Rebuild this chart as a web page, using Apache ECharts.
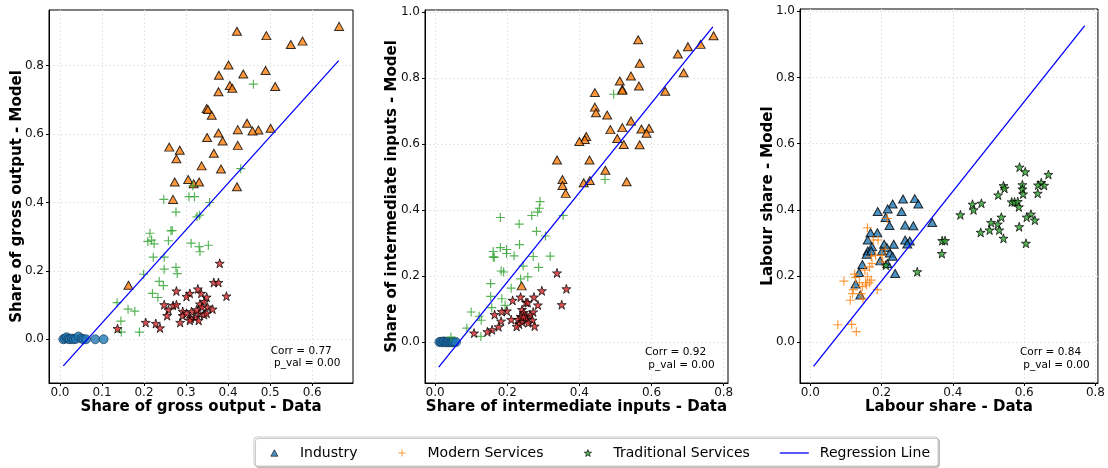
<!DOCTYPE html>
<html>
<head>
<meta charset="utf-8">
<script src="https://cdn.jsdelivr.net/npm/echarts@6/dist/echarts.min.js"></script>
<style>html,body{margin:0;padding:0;background:#fff;}#c{width:1108px;height:468px;}</style>
</head>
<body>
<div id="c"></div>
<script>
// ---------------- DATA ----------------
// Panel 1: Share of gross output (Data, Model)
const goAgriculture = [[0.008,0.000],[0.012,0.002],[0.016,0.006],[0.020,0.001],[0.024,0.000],[0.029,0.002],[0.033,0.000],[0.038,0.001],[0.044,0.008],[0.051,0.002],[0.056,0.000],[0.062,0.000],[0.084,0.000],[0.104,0.000]];
const goIndustry = [[0.664,0.915],[0.421,0.901],[0.491,0.888],[0.549,0.862],[0.577,0.872],[0.401,0.802],[0.436,0.776],[0.489,0.786],[0.378,0.772],[0.404,0.742],[0.410,0.734],[0.377,0.724],[0.512,0.739],[0.349,0.675],[0.352,0.672],[0.361,0.655],[0.445,0.632],[0.423,0.613],[0.472,0.612],[0.458,0.609],[0.501,0.617],[0.350,0.590],[0.377,0.603],[0.387,0.580],[0.423,0.567],[0.260,0.562],[0.285,0.553],[0.277,0.528],[0.366,0.544],[0.337,0.507],[0.383,0.498],[0.305,0.467],[0.273,0.460],[0.318,0.455],[0.331,0.460],[0.421,0.446],[0.269,0.409],[0.163,0.158]];
const goModern = [[0.460,0.746],[0.430,0.499],[0.316,0.449],[0.247,0.409],[0.307,0.417],[0.320,0.417],[0.356,0.400],[0.276,0.372],[0.332,0.363],[0.326,0.358],[0.214,0.310],[0.267,0.318],[0.264,0.317],[0.209,0.286],[0.218,0.290],[0.224,0.279],[0.258,0.288],[0.312,0.281],[0.331,0.271],[0.353,0.275],[0.333,0.256],[0.222,0.240],[0.248,0.240],[0.248,0.205],[0.276,0.210],[0.279,0.192],[0.199,0.190],[0.236,0.169],[0.246,0.157],[0.220,0.134],[0.233,0.122],[0.136,0.107],[0.162,0.088],[0.178,0.082],[0.145,0.053],[0.146,0.021],[0.189,0.021]];
const goTraditional = [[0.380,0.222],[0.366,0.166],[0.377,0.166],[0.396,0.126],[0.277,0.141],[0.328,0.147],[0.336,0.134],[0.349,0.123],[0.309,0.134],[0.301,0.125],[0.248,0.101],[0.269,0.099],[0.277,0.101],[0.258,0.086],[0.255,0.069],[0.292,0.081],[0.292,0.069],[0.313,0.081],[0.333,0.103],[0.343,0.110],[0.338,0.094],[0.351,0.094],[0.363,0.088],[0.331,0.076],[0.322,0.064],[0.343,0.072],[0.349,0.076],[0.311,0.061],[0.330,0.055],[0.309,0.055],[0.286,0.049],[0.204,0.049],[0.228,0.046],[0.238,0.033],[0.137,0.031],[0.301,0.076],[0.325,0.086]];
const goRegression = [[0.008,-0.078],[0.663,0.815]];

// Panel 2: Share of intermediate inputs (Data, Model)
const iiAgriculture = [[0.012,0.001],[0.016,0.002],[0.020,0.000],[0.024,0.003],[0.028,0.001],[0.032,0.000],[0.036,0.002],[0.040,0.000],[0.044,0.001],[0.048,0.000],[0.052,0.002],[0.058,0.001]];
const iiIndustry = [[0.772,0.928],[0.736,0.902],[0.563,0.916],[0.701,0.895],[0.673,0.873],[0.567,0.845],[0.689,0.816],[0.543,0.806],[0.512,0.791],[0.519,0.766],[0.519,0.763],[0.565,0.776],[0.638,0.760],[0.443,0.756],[0.443,0.712],[0.446,0.695],[0.477,0.688],[0.543,0.670],[0.486,0.644],[0.519,0.650],[0.572,0.646],[0.593,0.648],[0.586,0.633],[0.505,0.617],[0.419,0.623],[0.415,0.614],[0.400,0.608],[0.523,0.599],[0.567,0.598],[0.338,0.552],[0.428,0.552],[0.472,0.521],[0.353,0.493],[0.353,0.475],[0.362,0.451],[0.412,0.483],[0.429,0.490],[0.531,0.486],[0.240,0.171]];
const iiModern = [[0.495,0.751],[0.471,0.493],[0.355,0.384],[0.291,0.426],[0.289,0.406],[0.284,0.394],[0.268,0.384],[0.181,0.378],[0.233,0.358],[0.281,0.336],[0.306,0.322],[0.234,0.296],[0.161,0.275],[0.198,0.281],[0.181,0.287],[0.161,0.259],[0.164,0.257],[0.198,0.269],[0.219,0.262],[0.272,0.260],[0.319,0.261],[0.244,0.231],[0.287,0.227],[0.183,0.216],[0.190,0.213],[0.257,0.198],[0.237,0.192],[0.154,0.178],[0.211,0.164],[0.154,0.139],[0.185,0.132],[0.194,0.112],[0.157,0.105],[0.100,0.092],[0.122,0.079],[0.128,0.067],[0.088,0.043],[0.127,0.018],[0.044,0.016]];
const iiTraditional = [[0.338,0.210],[0.364,0.162],[0.351,0.114],[0.296,0.156],[0.274,0.137],[0.237,0.137],[0.215,0.127],[0.252,0.121],[0.257,0.120],[0.285,0.113],[0.199,0.095],[0.185,0.093],[0.165,0.084],[0.241,0.099],[0.246,0.090],[0.272,0.092],[0.263,0.083],[0.251,0.079],[0.237,0.078],[0.230,0.069],[0.211,0.069],[0.183,0.064],[0.254,0.069],[0.270,0.067],[0.241,0.062],[0.233,0.055],[0.226,0.048],[0.276,0.049],[0.176,0.047],[0.158,0.038],[0.145,0.032],[0.108,0.028],[0.245,0.077],[0.258,0.059]];
const iiRegression = [[0.010,-0.075],[0.770,0.955]];

// Panel 3: Labour share (Data, Model)
const lsIndustry = [[0.342,0.362],[0.260,0.433],[0.293,0.434],[0.303,0.418],[0.231,0.418],[0.217,0.403],[0.189,0.395],[0.256,0.395],[0.211,0.377],[0.222,0.353],[0.266,0.354],[0.289,0.352],[0.169,0.331],[0.188,0.331],[0.161,0.309],[0.266,0.309],[0.279,0.306],[0.272,0.297],[0.207,0.296],[0.234,0.296],[0.215,0.286],[0.173,0.289],[0.161,0.276],[0.201,0.276],[0.158,0.266],[0.223,0.270],[0.231,0.260],[0.196,0.246],[0.216,0.238],[0.146,0.235],[0.137,0.211],[0.238,0.208],[0.127,0.176],[0.140,0.143],[0.171,0.276]];
const lsModern = [[0.160,0.346],[0.216,0.374],[0.190,0.309],[0.177,0.309],[0.183,0.263],[0.171,0.260],[0.173,0.238],[0.203,0.243],[0.210,0.281],[0.153,0.218],[0.166,0.228],[0.160,0.198],[0.171,0.188],[0.155,0.180],[0.166,0.180],[0.158,0.173],[0.146,0.168],[0.124,0.206],[0.127,0.196],[0.094,0.185],[0.138,0.180],[0.121,0.159],[0.188,0.159],[0.118,0.147],[0.112,0.127],[0.142,0.147],[0.077,0.053],[0.116,0.054],[0.129,0.032],[0.148,0.131],[0.201,0.263]];
const lsTraditional = [[0.668,0.507],[0.587,0.529],[0.603,0.515],[0.648,0.482],[0.639,0.475],[0.656,0.474],[0.595,0.476],[0.595,0.463],[0.597,0.448],[0.638,0.450],[0.542,0.473],[0.545,0.465],[0.527,0.445],[0.565,0.424],[0.573,0.424],[0.582,0.425],[0.585,0.409],[0.455,0.417],[0.480,0.420],[0.458,0.400],[0.421,0.385],[0.619,0.387],[0.607,0.378],[0.630,0.369],[0.536,0.378],[0.507,0.362],[0.526,0.357],[0.530,0.339],[0.503,0.339],[0.586,0.349],[0.478,0.332],[0.542,0.314],[0.605,0.299],[0.370,0.307],[0.378,0.307],[0.369,0.268],[0.300,0.213],[0.212,0.233]];
const lsRegression = [[0.009,-0.073],[0.770,0.957]];

// Axis ranges and tick labels
const p1XTicks = [0.0,0.1,0.2,0.3,0.4,0.5,0.6];
const p1YTicks = [0.0,0.2,0.4,0.6,0.8];
const p2XTicks = [0.0,0.2,0.4,0.6,0.8];
const p2YTicks = [0.0,0.2,0.4,0.6,0.8,1.0];
const p3XTicks = [0.0,0.2,0.4,0.6,0.8];
const p3YTicks = [0.0,0.2,0.4,0.6,0.8,1.0];
const corrTexts = ['Corr = 0.77\n p_val = 0.00','Corr = 0.92\n p_val = 0.00','Corr = 0.84\n p_val = 0.00'];
const xTitles = ['Share of gross output - Data','Share of intermediate inputs - Data','Labour share - Data'];
const yTitles = ['Share of gross output - Model','Share of intermediate inputs - Model','Labour share - Model'];
const legendNames = ['Industry','Modern Services','Traditional Services','Regression Line'];

// ---------------- STYLE ----------------
const FONT = 'DejaVu Sans';
const BLUE='#1f77b4', ORANGE='#ff7f0e', GREEN='#2ca02c', RED='#d62728';
const STAR = 'path://M50,0 L61.2,34.5 L97.6,34.5 L68.2,55.9 L79.4,90.5 L50,69.1 L20.6,90.5 L31.8,55.9 L2.4,34.5 L38.8,34.5 Z';
const PLUS = 'path://M4.35,0 H5.65 V4.35 H10 V5.65 H5.65 V10 H4.35 V5.65 H0 V4.35 H4.35 Z';
const TRI = 'path://M5,0 L10,8.66 L0,8.66 Z';
// legend handles: 29px wide boxes with the marker centred (zero-length end segments set the extent)
const EDGES = 'M0,3.5 L0.001,3.5 M29,3.5 L28.999,3.5 ';
const TRI_L = 'path://' + EDGES + 'M11,7 L14.5,0.6 L18,7 Z';
const PLUS_L = 'path://' + EDGES + 'M14,0 H15 V3 H18 V4 H15 V7 H14 V4 H11 V3 H14 Z';
const STAR_L = 'path://' + EDGES + 'M14.5,0.2 L15.44,2.91 L18.3,2.96 L16.02,4.69 L16.85,7.44 L14.5,5.8 L12.15,7.44 L12.98,4.69 L10.7,2.96 L13.56,2.91 Z';
const LINE_L = 'path://M0,3 H29 V4.3 H0 Z';

const grids = [
  {left:49, top:10, width:304, height:373},
  {left:425, top:10, width:303, height:373},
  {left:800, top:9, width:302, height:374}
].map(g => Object.assign(g, {show:true, borderColor:'#000', borderWidth:1, backgroundColor:'transparent', containLabel:false}));

const ranges = [
  {x:[-0.026,0.697], y:[-0.128,0.963], xs:7, ys:5},
  {x:[-0.028,0.812], y:[-0.123,1.006], xs:4, ys:5},
  {x:[-0.029,0.807], y:[-0.123,1.007], xs:4, ys:5}
];
const xTickSets=[p1XTicks,p2XTicks,p3XTicks], yTickSets=[p1YTicks,p2YTicks,p3YTicks];
const yNameGaps=[24,25,24.5];

const fmt = v => Number(v).toFixed(1);
const splitLine = {show:true, lineStyle:{color:'#e6e6e6', width:1, type:[2,2]}};

const xAxes = ranges.map((r,i)=>({
  type:'value', gridIndex:i, min:r.x[0], max:r.x[1], splitNumber:r.xs,
  name:xTitles[i], nameLocation:'middle', nameGap:17, nameMoveOverlap:false,
  nameTextStyle:{fontFamily:FONT, fontWeight:'bold', fontSize:15, color:'#000'},
  axisLine:{show:true, onZero:false, lineStyle:{color:'#000', width:1}},
  axisTick:{show:true, length:3, lineStyle:{color:'#000'}, customValues:xTickSets[i]},
  axisLabel:{fontFamily:FONT, fontSize:12, color:'#111', margin:4, formatter:fmt, customValues:xTickSets[i]},
  splitLine:splitLine
}));
const yAxes = ranges.map((r,i)=>({
  type:'value', gridIndex:i, min:r.y[0], max:r.y[1], splitNumber:r.ys,
  name:yTitles[i], nameLocation:'middle', nameGap:yNameGaps[i], nameRotate:90, nameMoveOverlap:false,
  nameTextStyle:{fontFamily:FONT, fontWeight:'bold', fontSize:15, color:'#000'},
  axisLine:{show:true, onZero:false, lineStyle:{color:'#000', width:1}},
  axisTick:{show:true, length:3, lineStyle:{color:'#000'}, customValues:yTickSets[i]},
  axisLabel:{fontFamily:FONT, fontSize:12, color:'#111', margin:5, formatter:fmt, customValues:yTickSets[i]},
  splitLine:splitLine
}));

function circleS(name, data, i){ return {type:'scatter', name, data, xAxisIndex:i, yAxisIndex:i, symbol:'circle', symbolSize:9, itemStyle:{color:BLUE, borderColor:'#0b2a45', borderWidth:0.7}, z:2}; }
function triS(name, data, i, color){ return {type:'scatter', name, data, xAxisIndex:i, yAxisIndex:i, symbol:TRI, symbolSize:[9,8], itemStyle:{color, borderColor:'#000', borderWidth:1}, z:2}; }
function plusS(name, data, i, color){ return {type:'scatter', name, data, xAxisIndex:i, yAxisIndex:i, symbol:PLUS, symbolSize:9, itemStyle:{color}, z:2}; }
function starS(name, data, i, color){ return {type:'scatter', name, data, xAxisIndex:i, yAxisIndex:i, symbol:STAR, symbolSize:9, itemStyle:{color, borderColor:'#000', borderWidth:0.9}, z:2}; }
function regS(name, data, i){ return {type:'line', name, data, xAxisIndex:i, yAxisIndex:i, symbol:'none', showSymbol:false, lineStyle:{color:'#0000ff', width:1.3}, itemStyle:{color:'#0000ff'}, z:5, silent:true}; }

const series = [
  circleS('Agriculture (gross output)', goAgriculture, 0),
  triS('Industry (gross output)', goIndustry, 0, ORANGE),
  plusS('Modern Services (gross output)', goModern, 0, GREEN),
  starS('Traditional Services (gross output)', goTraditional, 0, RED),
  regS('Regression Line (gross output)', goRegression, 0),

  circleS('Agriculture (intermediate inputs)', iiAgriculture, 1),
  triS('Industry (intermediate inputs)', iiIndustry, 1, ORANGE),
  plusS('Modern Services (intermediate inputs)', iiModern, 1, GREEN),
  starS('Traditional Services (intermediate inputs)', iiTraditional, 1, RED),
  regS('Regression Line (intermediate inputs)', iiRegression, 1),

  triS(legendNames[0], lsIndustry, 2, BLUE),
  plusS(legendNames[1], lsModern, 2, ORANGE),
  starS(legendNames[2], lsTraditional, 2, GREEN),
  regS(legendNames[3], lsRegression, 2)
];

const corrPos = [[270.7,344.8],[645,346.5],[1020,346.5]];
const graphic = corrTexts.map((t,i)=>({
  type:'text', left:corrPos[i][0], top:corrPos[i][1], silent:true, z:10,
  style:{text:t, font:'10.5px "DejaVu Sans"', fill:'#000', lineHeight:12.3, textAlign:'left'}
}));

const legendData = [
  {name:legendNames[0], icon:TRI_L, itemStyle:{color:BLUE, borderColor:'#000', borderWidth:0.8}},
  {name:legendNames[1], icon:PLUS_L, itemStyle:{color:ORANGE, borderWidth:0}},
  {name:legendNames[2], icon:STAR_L, itemStyle:{color:GREEN, borderColor:'#000', borderWidth:0.8}},
  {name:legendNames[3], icon:LINE_L, itemStyle:{color:'#0000ff', borderWidth:0}}
];

const chart = echarts.init(document.getElementById('c'), null, {renderer:'canvas'});
chart.setOption({
  animation:false,
  backgroundColor:'#fff',
  grid:grids,
  xAxis:xAxes,
  yAxis:yAxes,
  series:series,
  graphic:graphic,
  legend:{
    data:legendData, left:254, top:437, orient:'horizontal',
    itemWidth:29, itemHeight:7, itemGap:30, symbolKeepAspect:true,
    textStyle:{fontFamily:FONT, fontSize:14, color:'#000', padding:[0,0,0,6]},
    padding:[9,8,6,5.5], borderColor:'#c8c8c8', borderWidth:1, borderRadius:3,
    backgroundColor:'#fff', shadowColor:'rgba(0,0,0,0.2)', shadowOffsetX:1.5, shadowOffsetY:1.5, shadowBlur:0,
    selectedMode:false
  }
});
</script>
</body>
</html>
